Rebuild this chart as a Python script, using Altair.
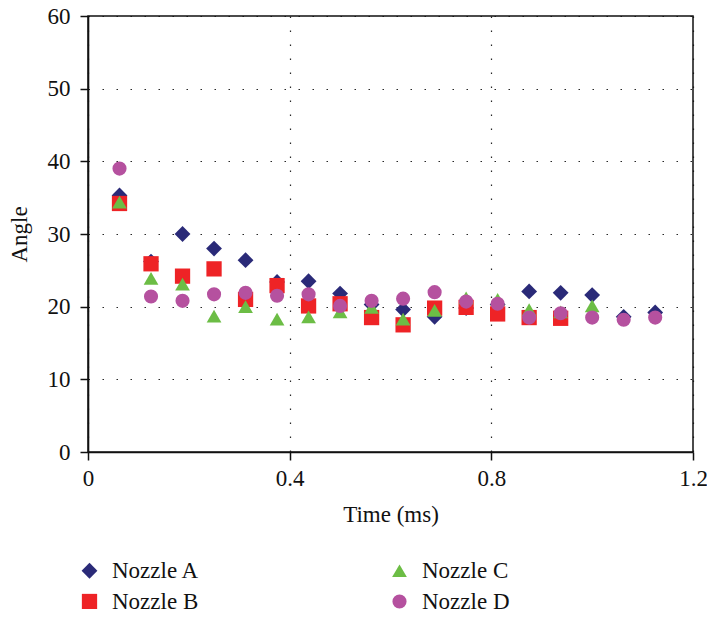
import altair as alt
import pandas as pd

times = [0.0625, 0.125, 0.1875, 0.25, 0.3125, 0.375, 0.4375, 0.5, 0.5625,
         0.625, 0.6875, 0.75, 0.8125, 0.875, 0.9375, 1.0, 1.0625, 1.125]

nozzle_a = [35.3, 26.2, 30.0, 28.0, 26.4, 23.4, 23.5, 21.8, 20.3,
            19.6, 18.6, 19.8, 20.3, 22.1, 21.9, 21.6, 18.6, 19.2]
nozzle_b = [34.2, 25.9, 24.2, 25.2, 21.0, 22.9, 20.1, 20.4, 18.5,
            17.5, 19.8, 19.9, 19.0, 18.5, 18.4]
nozzle_c = [34.4, 23.9, 23.1, 18.7, 20.0, 18.3, 18.6, 19.3, 19.9,
            18.3, 19.5, 21.2, 21.0, 19.6, 19.3, 20.1]
nozzle_d = [39.0, 21.4, 20.8, 21.7, 21.9, 21.5, 21.7, 20.1, 20.8,
            21.1, 22.0, 20.7, 20.4, 18.5, 19.1, 18.5, 18.2, 18.5]

series = {"Nozzle A": nozzle_a, "Nozzle B": nozzle_b,
          "Nozzle C": nozzle_c, "Nozzle D": nozzle_d}

rows = []
for name, vals in series.items():
    for t, v in zip(times, vals):
        rows.append({"Time": t, "Angle": v, "Series": name})
df = pd.DataFrame(rows)

names = ["Nozzle A", "Nozzle B", "Nozzle C", "Nozzle D"]
colors = ["#2a2a78", "#ee2326", "#6cbd45", "#b5519f"]
shapes = ["diamond", "square", "triangle-up", "circle"]
sizes = [250, 200, 270, 175]

FONT = "Liberation Serif"
FS = 23

legend = alt.Legend(
    title=None, orient="none", legendX=-10, legendY=543, columns=2,
    columnPadding=188, rowPadding=7, labelFont=FONT, labelFontSize=FS,
    labelColor="#111111", labelOffset=11, symbolStrokeWidth=0,
)

chart = alt.Chart(df).mark_point(filled=True, opacity=1).encode(
    x=alt.X("Time:Q", title="Time (ms)",
            scale=alt.Scale(domain=[0, 1.2], nice=False, zero=True),
            axis=alt.Axis(values=[0, 0.4, 0.8, 1.2], format="~g", labelFlush=False)),
    y=alt.Y("Angle:Q", title="Angle",
            scale=alt.Scale(domain=[0, 60], nice=False),
            axis=alt.Axis(values=[0, 10, 20, 30, 40, 50, 60], labelFlush=False)),
    color=alt.Color("Series:N", scale=alt.Scale(domain=names, range=colors), legend=legend),
    shape=alt.Shape("Series:N", scale=alt.Scale(domain=names, range=shapes), legend=legend),
    size=alt.Size("Series:N", scale=alt.Scale(domain=names, range=sizes), legend=legend),
    order=alt.Order("Series:N"),
).properties(
    width=605, height=436,
    autosize=alt.AutoSizeParams(type="none"),
    padding={"left": 80, "top": 8, "right": 14, "bottom": 157},
).configure_view(
    stroke="#111111", strokeWidth=1.5
).configure_axis(
    labelFont=FONT, labelFontSize=FS, labelColor="#111111",
    titleFont=FONT, titleFontSize=FS, titleColor="#111111", titleFontWeight="normal",
    domainColor="#111111", domainWidth=1.6, tickColor="#111111", tickSize=8, tickWidth=1.5,
    grid=True, gridColor="#111111", gridDash=[1.5, 12.5], gridWidth=1.2, gridOpacity=0.9,
).configure_axisY(
    titlePadding=16, labelPadding=10
).configure_axisX(
    titlePadding=13, labelPadding=7
)

chart.save("out.html", embed_options={"renderer": "svg", "actions": False})
